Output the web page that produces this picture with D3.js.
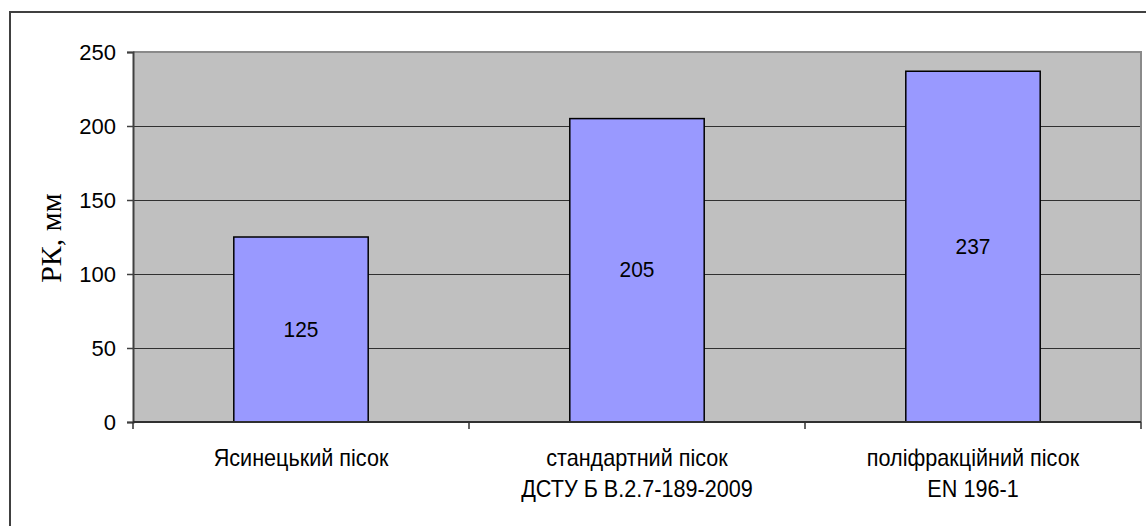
<!DOCTYPE html>
<html>
<head>
<meta charset="utf-8">
<script src="https://cdn.jsdelivr.net/npm/d3@7"></script>
<style>
  html, body { margin: 0; padding: 0; background: #ffffff; }
  svg { display: block; }
</style>
</head>
<body>
<svg id="chart" width="1146" height="526"></svg>
<script>
// Categories (two-line labels) and measured spread values, mm
const categories = ["Ясинецький пісок", "стандартний пісок", "поліфракційний пісок"];
const categorySubtitles = ["", "ДСТУ Б В.2.7-189-2009", "EN 196-1"];
const values = [125, 205, 237];
const yTicks = [0, 50, 100, 150, 200, 250];
const yTitle = "РК, мм";

const svg = d3.select("#chart");
const plot = { left: 133, right: 1141, top: 52, bottom: 422 };
const sans = "'Liberation Sans', Arial, sans-serif";

// outer chart frame
svg.append("rect")
  .attr("x", 10).attr("y", 12)
  .attr("width", 1146).attr("height", 600)
  .attr("fill", "#ffffff")
  .attr("stroke", "#404040").attr("stroke-width", 2);

const x = d3.scaleBand().domain(categories).range([plot.left, plot.right]).padding(0);
const y = d3.scaleLinear().domain([0, 250]).range([plot.bottom, plot.top]);

// plot background
svg.append("rect")
  .attr("x", plot.left).attr("y", plot.top)
  .attr("width", plot.right - plot.left).attr("height", plot.bottom - plot.top)
  .attr("fill", "#c0c0c0");

// horizontal gridlines
svg.append("g").selectAll("line")
  .data(yTicks.filter(t => t > 0 && t < 250))
  .join("line")
  .attr("x1", plot.left).attr("x2", plot.right)
  .attr("y1", d => Math.round(y(d)) + 0.5).attr("y2", d => Math.round(y(d)) + 0.5)
  .attr("stroke", "#303030").attr("stroke-width", 1);

// plot border (top and right)
svg.append("path")
  .attr("d", `M${plot.left},${plot.top} H${plot.right} V${plot.bottom}`)
  .attr("fill", "none")
  .attr("stroke", "#8a8a8a").attr("stroke-width", 2);

// bars
const barW = x.bandwidth() / 2.5;
svg.append("g").selectAll("rect")
  .data(values)
  .join("rect")
  .attr("x", (d, i) => x(categories[i]) + (x.bandwidth() - barW) / 2)
  .attr("y", d => y(d))
  .attr("width", barW)
  .attr("height", d => y(0) - y(d))
  .attr("fill", "#9999ff")
  .attr("stroke", "#000000").attr("stroke-width", 1.5);

// value labels in the middle of each bar
svg.append("g").selectAll("text")
  .data(values)
  .join("text")
  .attr("transform", (d, i) =>
    `translate(${x(categories[i]) + x.bandwidth() / 2},${(y(d) + y(0)) / 2}) scale(0.95,1)`)
  .attr("text-anchor", "middle")
  .attr("dominant-baseline", "central")
  .attr("font-family", sans)
  .attr("font-size", 22)
  .attr("fill", "#000")
  .text(d => d);

// y axis
const yAxis = svg.append("g")
  .attr("transform", `translate(${plot.left},0)`)
  .call(d3.axisLeft(y).tickValues(yTicks).tickSize(6).tickPadding(11));
yAxis.select(".domain").attr("stroke", "#404040").attr("stroke-width", 2);
yAxis.selectAll(".tick line").attr("stroke", "#404040").attr("stroke-width", 1.5);
yAxis.selectAll(".tick text")
  .attr("font-family", sans)
  .attr("font-size", 22).attr("fill", "#000");

// x axis: ticks at category boundaries
const boundaries = categories.map(c => x(c)).concat([plot.right]);
const xAxisG = svg.append("g");
xAxisG.append("line")
  .attr("x1", plot.left).attr("x2", plot.right)
  .attr("y1", plot.bottom).attr("y2", plot.bottom)
  .attr("stroke", "#303030").attr("stroke-width", 2);
xAxisG.selectAll("line.tick")
  .data(boundaries)
  .join("line").attr("class", "tick")
  .attr("x1", d => d).attr("x2", d => d)
  .attr("y1", plot.bottom).attr("y2", plot.bottom + 7)
  .attr("stroke", "#303030").attr("stroke-width", 1.5);

// category labels
const catLabels = svg.append("g").selectAll("text")
  .data(categories)
  .join("text")
  .attr("transform", d => `translate(${x(d) + x.bandwidth() / 2},466) scale(0.94,1)`)
  .attr("text-anchor", "middle")
  .attr("font-family", sans)
  .attr("font-size", 23)
  .attr("fill", "#000");
catLabels.append("tspan").attr("x", 0).text(d => d);
catLabels.append("tspan")
  .attr("x", 0)
  .attr("dy", 31)
  .text((d, i) => categorySubtitles[i]);

// y axis title
svg.append("text")
  .attr("transform", `translate(61,${(plot.top + plot.bottom) / 2 + 1}) rotate(-90)`)
  .attr("text-anchor", "middle")
  .attr("font-family", "'Liberation Serif', 'Times New Roman', serif")
  .attr("font-size", 30)
  .attr("fill", "#000")
  .text(yTitle);
</script>
</body>
</html>
